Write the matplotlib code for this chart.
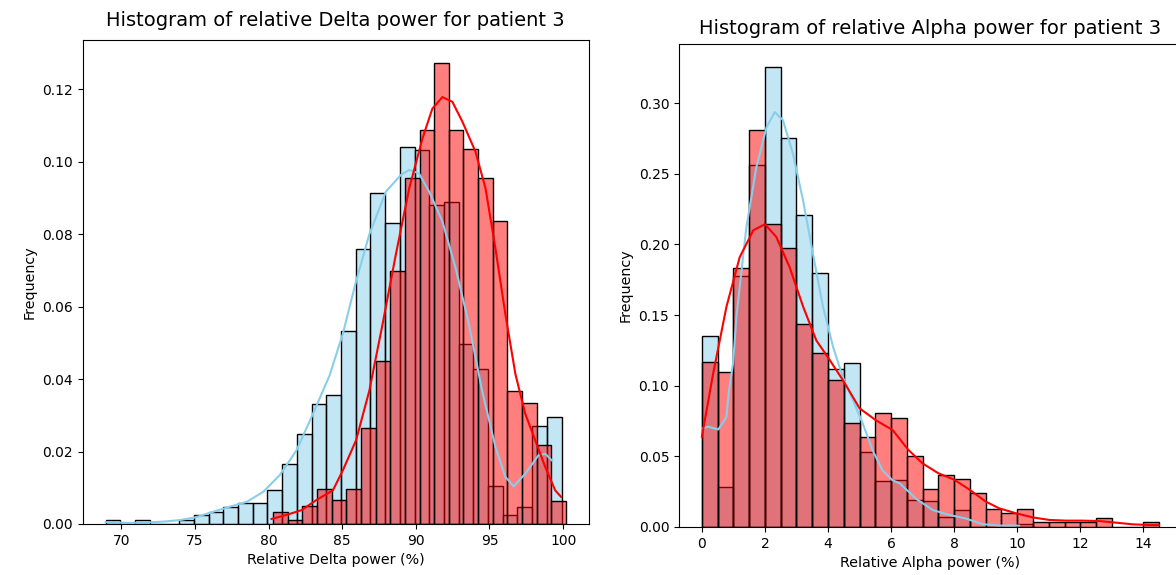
import numpy as np
import matplotlib.pyplot as plt
from matplotlib.colors import to_rgba

# ---- Delta power histogram (density, bin width ~1) ----
delta_blue_start = 68.94
delta_blue_width = 0.9986
delta_blue = [0.0011, 0.0, 0.0011, 0.0, 0.0, 0.0011, 0.0025, 0.0033, 0.0046, 0.0059,
              0.0059, 0.0093, 0.0165, 0.0249, 0.0332, 0.0355, 0.0533, 0.0760, 0.0913, 0.0831,
              0.1042, 0.1032, 0.0880, 0.0889, 0.0498, 0.0428, 0.0104, 0.0024, 0.0046, 0.0272,
              0.0295]

delta_red_start = 80.31
delta_red_width = 0.994
delta_red = [0.0034, 0.0011, 0.0049, 0.0098, 0.0066, 0.0098, 0.0266, 0.0449, 0.0700, 0.0955,
             0.1088, 0.1273, 0.1088, 0.1035, 0.0955, 0.0837, 0.0366, 0.0333, 0.0217, 0.0064]

delta_blue_kde_x = [68.94, 70.5, 71.76, 73.0, 74.0, 75.0, 76.26, 77.39, 78.51, 79.64,
                    80.76, 81.89, 83.01, 84.14, 85.04, 85.94, 86.84, 87.97, 88.98, 89.55,
                    90.22, 90.90, 91.80, 92.70, 93.60, 94.50, 95.40, 96.08, 96.64, 97.43,
                    98.33, 98.78, 99.28]
delta_blue_kde_y = [0.0005, 0.0003, 0.0004, 0.0007, 0.0011, 0.0018, 0.0034, 0.0048, 0.0061, 0.0089,
                    0.0135, 0.0203, 0.0304, 0.0410, 0.0525, 0.0670, 0.0800, 0.0918, 0.0964, 0.0978,
                    0.0968, 0.0918, 0.0836, 0.0707, 0.0552, 0.0368, 0.0213, 0.0130, 0.0104, 0.0139,
                    0.0190, 0.0194, 0.0174]

delta_red_kde_x = [80.20, 81.21, 82.23, 83.24, 84.37, 85.04, 85.94, 86.84, 87.74, 88.64,
                   89.55, 90.45, 91.12, 91.80, 92.48, 93.15, 94.05, 94.73, 95.40, 96.08,
                   96.76, 97.43, 98.11, 98.78, 99.46, 99.86]
delta_red_kde_y = [0.0014, 0.0025, 0.0038, 0.0066, 0.0093, 0.0148, 0.0231, 0.0368, 0.0552, 0.0744,
                   0.0927, 0.1065, 0.1147, 0.1179, 0.1166, 0.1112, 0.1028, 0.0927, 0.0762, 0.0579,
                   0.0414, 0.0304, 0.0231, 0.0158, 0.0093, 0.0075]

# ---- Alpha power histogram (density, bin width 0.5) ----
alpha_start = 0.0
alpha_width = 0.5
alpha_blue = [0.135, 0.0285, 0.178, 0.2565, 0.3256, 0.2753, 0.2211, 0.180, 0.1115, 0.1162,
              0.0528, 0.0325, 0.0332, 0.0191, 0.0184, 0.0073, 0.012, 0.0, 0.0, 0.0,
              0.0019]
alpha_red = [0.1165, 0.110, 0.1836, 0.281, 0.2148, 0.1978, 0.144, 0.1235, 0.104, 0.0733,
             0.0634, 0.0804, 0.0773, 0.0502, 0.0266, 0.0368, 0.0337, 0.0238, 0.0127, 0.0097,
             0.0127, 0.0033, 0.0033, 0.0033, 0.0033, 0.0061, 0.0, 0.0, 0.0033]

alpha_blue_kde_x = [0.02, 0.20, 0.52, 0.78, 0.85, 0.99, 1.10, 1.41, 1.73, 2.05,
                    2.31, 2.57, 2.89, 3.21, 3.52, 3.84, 4.16, 4.47, 4.79, 5.10,
                    5.42, 5.73, 6.05, 6.27, 6.79, 7.32, 7.85, 8.37, 8.90, 9.43, 10.06]
alpha_blue_kde_y = [0.0698, 0.0710, 0.0690, 0.0780, 0.0950, 0.1160, 0.1500, 0.2120, 0.2550, 0.2830,
                    0.2937, 0.2880, 0.2640, 0.2310, 0.1935, 0.1560, 0.1275, 0.1060, 0.0898, 0.0733,
                    0.0540, 0.0400, 0.0330, 0.0310, 0.0200, 0.0120, 0.0085, 0.0060, 0.0020, 0.0010, 0.0010]

alpha_red_kde_x = [0.0, 0.358, 0.78, 1.20, 1.63, 2.0, 2.36, 2.78, 3.21, 3.63,
                   4.0, 4.47, 5.0, 5.52, 6.05, 6.55, 7.0, 7.5, 8.0, 8.5,
                   9.0, 9.43, 9.96, 10.49, 11.01, 11.54, 12.07, 12.60, 13.12, 13.65,
                   14.18, 14.49]
alpha_red_kde_y = [0.0639, 0.1087, 0.156, 0.191, 0.210, 0.2143, 0.2053, 0.184, 0.156, 0.132,
                   0.120, 0.104, 0.084, 0.0755, 0.0686, 0.0545, 0.045, 0.038, 0.0335, 0.0262,
                   0.018, 0.0132, 0.0097, 0.0068, 0.0050, 0.0045, 0.0045, 0.0042, 0.0031, 0.0019,
                   0.0014, 0.0014]


def draw_hist(ax, start, width, heights, color):
    lefts = start + width * np.arange(len(heights))
    ax.bar(lefts, heights, width=width, align='edge',
           facecolor=to_rgba(color, 0.5), edgecolor='black', linewidth=1)


fig = plt.figure(figsize=(11.76, 5.75), dpi=100)
ax1 = fig.add_axes([0.0703, 0.0887, 0.4305, 0.8417])
ax2 = fig.add_axes([0.5774, 0.0835, 0.4277, 0.8400])

# left: Delta
draw_hist(ax1, delta_blue_start, delta_blue_width, delta_blue, 'skyblue')
ax1.plot(delta_blue_kde_x, delta_blue_kde_y, color='skyblue', linewidth=1.5)
draw_hist(ax1, delta_red_start, delta_red_width, delta_red, 'red')
ax1.plot(delta_red_kde_x, delta_red_kde_y, color='red', linewidth=1.5)
ax1.set_title('Histogram of relative Delta power for patient 3', fontsize=14, pad=10)
ax1.set_xlabel('Relative Delta power (%)', fontsize=10.3)
ax1.set_ylabel('Frequency', fontsize=10.3)

# right: Alpha
draw_hist(ax2, alpha_start, alpha_width, alpha_blue, 'skyblue')
ax2.plot(alpha_blue_kde_x, alpha_blue_kde_y, color='skyblue', linewidth=1.5)
draw_hist(ax2, alpha_start, alpha_width, alpha_red, 'red')
ax2.plot(alpha_red_kde_x, alpha_red_kde_y, color='red', linewidth=1.5)
ax2.set_title('Histogram of relative Alpha power for patient 3', fontsize=14, pad=7)
ax2.set_xlabel('Relative Alpha power (%)', fontsize=10.3)
ax2.set_ylabel('Frequency', fontsize=10.3)

fig.savefig('out.png', dpi=100)
